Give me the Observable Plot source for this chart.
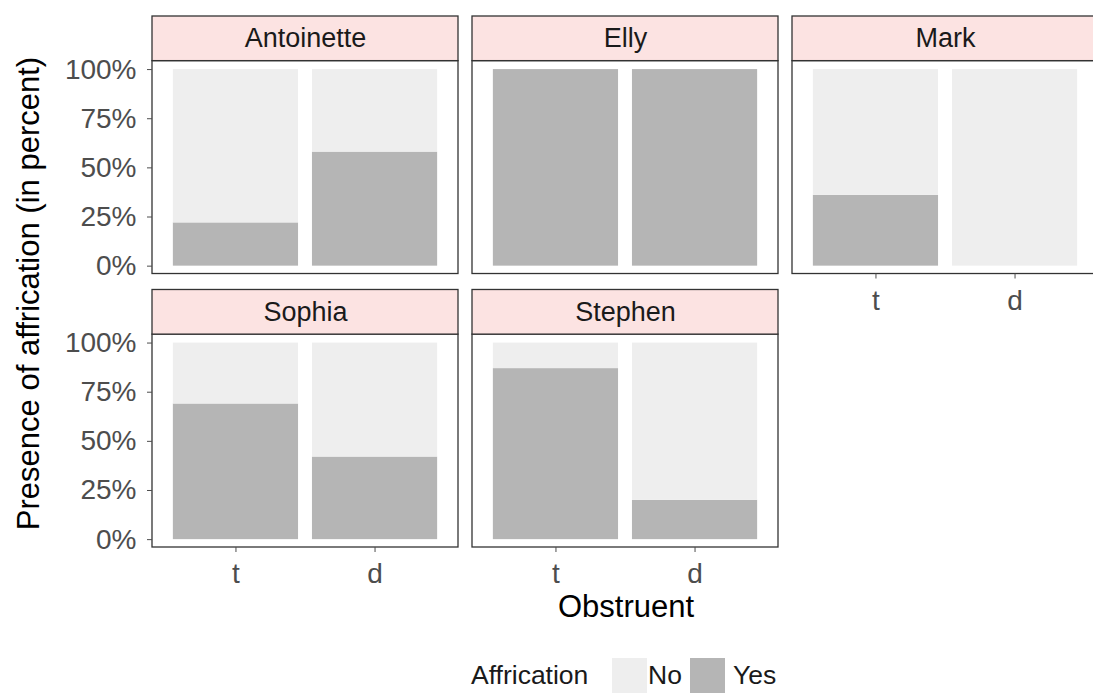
<!DOCTYPE html>
<html>
<head>
<meta charset="utf-8">
<script src="https://cdn.jsdelivr.net/npm/d3@7"></script>
<script src="https://cdn.jsdelivr.net/npm/@observablehq/plot@0.6"></script>
<style>
  html, body { margin: 0; padding: 0; background: #ffffff; overflow: hidden; }
  body { position: relative; width: 1093px; height: 695px; font-family: "Liberation Sans", Arial, sans-serif; }
  #chart { position: absolute; left: 0; top: 0; }
  #legend { position: absolute; left: 0; top: 0; width: 1093px; height: 695px; font-size: 26.5px; color: #1a1a1a; pointer-events: none; }
  #legend span { position: absolute; line-height: 35px; top: 658px; white-space: nowrap; }
  #legend .key { width: 35px; height: 35px; }
</style>
</head>
<body>
<div id="chart"></div>
<div id="legend"></div>
<script>
// ---- data ----
const speakers = ["Antoinette", "Elly", "Mark", "Sophia", "Stephen"];
const obstruents = ["t", "d"];
const yesT = [22, 100, 36, 69, 87];   // % affricated, /t/
const yesD = [58, 100, 0, 42, 20];    // % affricated, /d/
const affrication = ["No", "Yes"];
const fillColors = ["#eeeeee", "#b5b5b5"];
const yTicks = [0, 25, 50, 75, 100];
const xTitle = "Obstruent";
const yTitle = "Presence of affrication (in percent)";
const legendTitle = "Affrication";

// ---- build tables ----
const nCols = 3;
const panels = speakers.map((name, i) => ({name, col: i % nCols, row: Math.floor(i / nCols)}));
const rows = [];
speakers.forEach((name, i) => {
  const p = panels[i];
  [yesT[i], yesD[i]].forEach((yes, j) => {
    rows.push({speaker: name, col: p.col, row: p.row, obstruent: obstruents[j], affrication: "Yes", value: yes});
    rows.push({speaker: name, col: p.col, row: p.row, obstruent: obstruents[j], affrication: "No", value: 100 - yes});
  });
});

const yLow = -4, yPanelTop = 104.3, yStripTop = 127;
const stripY = (yPanelTop + yStripTop) / 2;

const chart = Plot.plot({
  width: 1098,
  height: 640,
  marginLeft: 152,
  marginRight: 0,
  marginTop: 16,
  marginBottom: 93,
  style: {fontFamily: "'Liberation Sans', Arial, sans-serif", fontSize: "27px", maxWidth: "none", overflow: "visible", background: "#ffffff"},
  fx: {axis: null, domain: [0, 1, 2], paddingInner: 0.04375, paddingOuter: 0, round: false},
  fy: {axis: null, domain: [0, 1], paddingInner: 0.0584, paddingOuter: 0, round: false},
  x: {domain: obstruents, paddingInner: 0.1, paddingOuter: 0.15, round: false, label: null},
  y: {domain: [yLow, yStripTop], label: null},
  color: {domain: affrication, range: fillColors},
  marks: [
    Plot.barY(rows, {x: "obstruent", y: "value", fill: "affrication", fx: "col", fy: "row", order: ["Yes", "No"]}),
    Plot.rect(panels, {fx: "col", fy: "row", y1: yLow, y2: yPanelTop, fill: "none", stroke: "#333333", strokeWidth: 1.3}),
    Plot.rect(panels, {fx: "col", fy: "row", y1: yPanelTop, y2: yStripTop, fill: "#fce3e2", stroke: "#333333", strokeWidth: 1.3}),
    Plot.text(panels, {fx: "col", fy: "row", y: stripY, text: "name", fontSize: 27, fill: "#1a1a1a"}),
    Plot.axisY({ticks: yTicks, tickFormat: d => d + "%", tickSize: 5, tickPadding: 11, fontSize: 28, color: "#4d4d4d", label: null}),
    Plot.axisX({tickSize: 5, tickPadding: 11, fontSize: 28, color: "#4d4d4d", label: null})
  ]
});
document.getElementById("chart").appendChild(chart);

// axis titles
const svg = d3.select(chart);
svg.append("text")
  .attr("x", 626).attr("y", 617)
  .attr("text-anchor", "middle")
  .attr("font-size", 31).attr("fill", "#000")
  .text(xTitle);
svg.append("text")
  .attr("transform", "translate(39,293.5) rotate(-90)")
  .attr("text-anchor", "middle")
  .attr("font-size", 31).attr("fill", "#000")
  .text(yTitle);

// legend
const legend = d3.select("#legend");
legend.append("span").text(legendTitle).style("left", "471px");
const keyLeft = [612, 690];
const labelLeft = [648, 733];
affrication.forEach((a, i) => {
  legend.append("span").attr("class", "key").style("background", fillColors[i]).style("left", keyLeft[i] + "px");
  legend.append("span").text(a).style("left", labelLeft[i] + "px");
});
</script>
</body>
</html>
